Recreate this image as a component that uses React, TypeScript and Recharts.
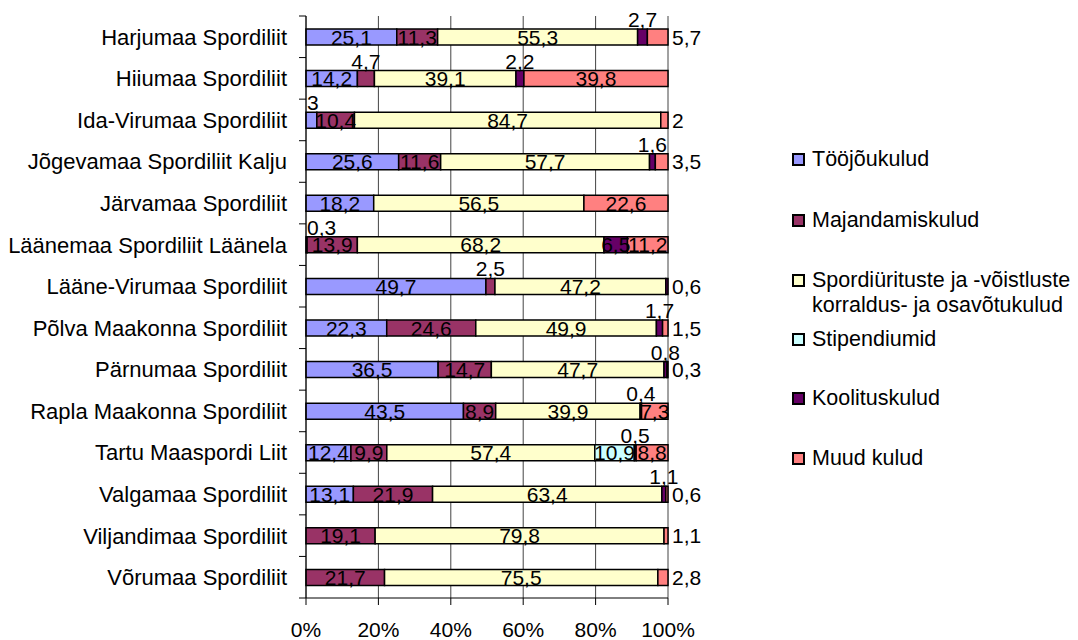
import { BarChart, Bar, XAxis, YAxis, CartesianGrid, Legend, LabelList } from "recharts";

const FONT = "'Liberation Sans', Arial, sans-serif";

const categories = [
  "Harjumaa Spordiliit",
  "Hiiumaa Spordiliit",
  "Ida-Virumaa Spordiliit",
  "Jõgevamaa Spordiliit Kalju",
  "Järvamaa Spordiliit",
  "Läänemaa Spordiliit Läänela",
  "Lääne-Virumaa Spordiliit",
  "Põlva Maakonna Spordiliit",
  "Pärnumaa Spordiliit",
  "Rapla Maakonna Spordiliit",
  "Tartu Maaspordi Liit",
  "Valgamaa Spordiliit",
  "Viljandimaa Spordiliit",
  "Võrumaa Spordiliit",
];

const toojoukulud = [25.1, 14.2, 3, 25.6, 18.2, 0.3, 49.7, 22.3, 36.5, 43.5, 12.4, 13.1, 0, 0];
const majandamiskulud = [11.3, 4.7, 10.4, 11.6, 0, 13.9, 2.5, 24.6, 14.7, 8.9, 9.9, 21.9, 19.1, 21.7];
const spordiuritused = [55.3, 39.1, 84.7, 57.7, 56.5, 68.2, 47.2, 49.9, 47.7, 39.9, 57.4, 63.4, 79.8, 75.5];
const stipendiumid = [0, 0, 0, 0, 0, 0, 0, 0, 0, 0, 10.9, 0, 0, 0];
const koolituskulud = [2.7, 2.2, 0, 1.6, 0, 6.5, 0.6, 1.7, 0.8, 0.4, 0.5, 1.1, 0, 0];
const muudKulud = [5.7, 39.8, 2, 3.5, 22.6, 11.2, 0, 1.5, 0.3, 7.3, 8.8, 0.6, 1.1, 2.8];

const xTicks = [0, 0.2, 0.4, 0.6, 0.8, 1];

const series = [
  { key: "s0", name: "Tööjõukulud", color: "#9999FF", values: toojoukulud },
  { key: "s1", name: "Majandamiskulud", color: "#993366", values: majandamiskulud },
  { key: "s2", name: "Spordiürituste ja -võistluste\nkorraldus- ja osavõtukulud", color: "#FFFFCC", values: spordiuritused },
  { key: "s3", name: "Stipendiumid", color: "#CCFFFF", values: stipendiumid },
  { key: "s4", name: "Koolituskulud", color: "#660066", values: koolituskulud },
  { key: "s5", name: "Muud kulud", color: "#FF8080", values: muudKulud },
];

const data = categories.map((name, i) => {
  const row: Record<string, any> = { name, idx: i };
  series.forEach((s) => (row[s.key] = s.values[i]));
  return row;
});

const lastNonZero = (i: number) => {
  let last = -1;
  series.forEach((s, k) => {
    if (s.values[i]) last = k;
  });
  return last;
};

const fmt = (v: number) => String(v).replace(".", ",");

// label value carries the row index so placement does not depend on LabelList's index
const labelAccessor = (key: string) => (row: any) => (row[key] ? `${row.idx}|${row[key]}` : "");

const makeLabel = (seriesIdx: number) => (props: any) => {
  if (!props.value) return null;
  const [idxStr, valStr] = String(props.value).split("|");
  const value = Number(valStr);
  if (!value) return null;
  const rowIdx = Number(idxStr);
  const x = Number(props.x);
  const y = Number(props.y);
  const w = Number(props.width);
  const h = Number(props.height);
  const common = { fontFamily: FONT, fontSize: 21, fill: "#000" };
  if (value >= 6) {
    return (
      <text x={x + w / 2} y={y + h / 2} dy="0.36em" textAnchor="middle" {...common}>
        {fmt(value)}
      </text>
    );
  }
  if (lastNonZero(rowIdx) === seriesIdx) {
    return (
      <text x={x + w + 4} y={y + h / 2} dy="0.36em" textAnchor="start" {...common}>
        {fmt(value)}
      </text>
    );
  }
  if (seriesIdx === 0) {
    return (
      <text x={x + 1} y={y - 2} textAnchor="start" {...common}>
        {fmt(value)}
      </text>
    );
  }
  return (
    <text x={x + w / 2} y={y - 2} textAnchor="middle" {...common}>
      {fmt(value)}
    </text>
  );
};

const CategoryTick = (props: any) => {
  const { x, y, payload } = props;
  const off = payload && payload.offset ? payload.offset : 20.8;
  const isLast = payload && payload.index === categories.length - 1;
  return (
    <g>
      <text x={x} y={y} dy="0.36em" textAnchor="end" fontFamily={FONT} fontSize={22} fill="#000">
        {payload.value}
      </text>
      <line x1={x + 12} x2={x + 19} y1={y - off} y2={y - off} stroke="#000" />
      {isLast && <line x1={x + 12} x2={x + 19} y1={y + off} y2={y + off} stroke="#000" />}
    </g>
  );
};

const legendGaps = [36, 35, 9, 34, 35, 0];

const renderLegend = () => (
  <div style={{ fontFamily: FONT, fontSize: 21.5, color: "#000" }}>
    {series.map((s, i) => (
      <div
        key={s.key}
        style={{ display: "flex", alignItems: "flex-start", lineHeight: "25px", marginBottom: legendGaps[i] }}
      >
        <span
          style={{
            width: 9,
            height: 9,
            border: "2px solid #000",
            background: s.color,
            marginTop: 6,
            marginRight: 7,
            flex: "none",
          }}
        />
        <span style={{ whiteSpace: "pre-line" }}>{s.name}</span>
      </div>
    ))}
  </div>
);

export default function App() {
  return (
    <BarChart
      width={1062}
      height={632}
      data={data}
      layout="vertical"
      stackOffset="expand"
      barSize={16}
      margin={{ top: 8, right: 402, left: 0, bottom: 2 }}
    >
      <CartesianGrid vertical horizontal={false} stroke="#444" />
      <XAxis
        type="number"
        domain={[0, 1]}
        ticks={xTicks}
        tickFormatter={(v) => `${Math.round(v * 100)}%`}
        tickSize={7}
        tickMargin={17}
        height={40}
        stroke="#000"
        tick={{ fill: "#000", fontSize: 21, fontFamily: FONT }}
      />
      <XAxis
        xAxisId="top"
        orientation="top"
        type="number"
        domain={[0, 1]}
        height={0}
        tick={false}
        tickLine={false}
        stroke="#000"
      />
      <YAxis
        type="category"
        dataKey="name"
        width={298}
        tickSize={7}
        tickMargin={12}
        tickLine={false}
        stroke="#000"
        tick={<CategoryTick />}
        interval={0}
      />
      <Legend
        layout="vertical"
        align="center"
        verticalAlign="middle"
        wrapperStyle={{ left: 784, top: 138.5, width: 290 }}
        content={renderLegend}
      />
      {series.map((s, i) => (
        <Bar
          key={s.key}
          dataKey={s.key}
          name={s.name}
          stackId="a"
          fill={s.color}
          stroke="#000"
          strokeWidth={1.5}
          isAnimationActive={false}
        >
          <LabelList dataKey={labelAccessor(s.key)} content={makeLabel(i)} />
        </Bar>
      ))}
    </BarChart>
  );
}
